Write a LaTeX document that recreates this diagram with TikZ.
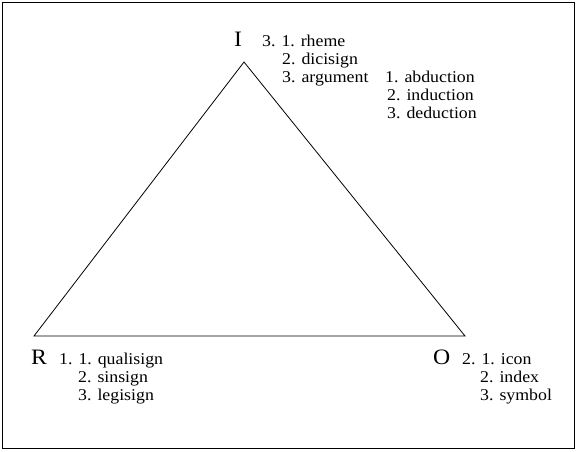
\documentclass[tikz,border=0pt]{standalone}
\usepackage{fontspec}
\setmainfont{Liberation Serif}[FakeStretch=1.08]
\begin{document}
\begin{tikzpicture}[x=1pt,y=-1pt,
  lbl/.style={anchor=base west,inner sep=0pt,font=\fontsize{16.5}{18}\selectfont},
  big/.style={anchor=base west,inner sep=0pt,font=\fontsize{22}{24}\selectfont},
  tri/.style={line width=0.8pt}]
\useasboundingbox (0,0) rectangle (578,451);
\draw[line width=1pt] (2.5,2.5) rectangle (574.5,448.5);
\coordinate (apex) at (244,62);
\coordinate (left) at (34,336);
\coordinate (right) at (465,336);
\draw[tri] (apex) -- (left) -- (right) -- cycle;
% I group
\node[big] (I) at (234,46) {I};
\node[lbl] (i1) at (262,46) {3. 1. rheme};
\node[lbl] (i2) at (282,64) {2. dicisign};
\node[lbl] (i3) at (282,82) {3. argument};
\node[lbl] (a1) at (385,82) {1. abduction};
\node[lbl] (a2) at (387,100) {2. induction};
\node[lbl] (a3) at (387,118) {3. deduction};
% R group
\node[big] (R) at (31,364) {R};
\node[lbl] (r1) at (59,364) {1. 1. qualisign};
\node[lbl] (r2) at (78,382) {2. sinsign};
\node[lbl] (r3) at (78,400) {3. legisign};
% O group
\node[big] (O) at (433,364) {O};
\node[lbl] (o1) at (462,364) {2. 1. icon};
\node[lbl] (o2) at (480,382) {2. index};
\node[lbl] (o3) at (480,400) {3. symbol};
\end{tikzpicture}
\end{document}
